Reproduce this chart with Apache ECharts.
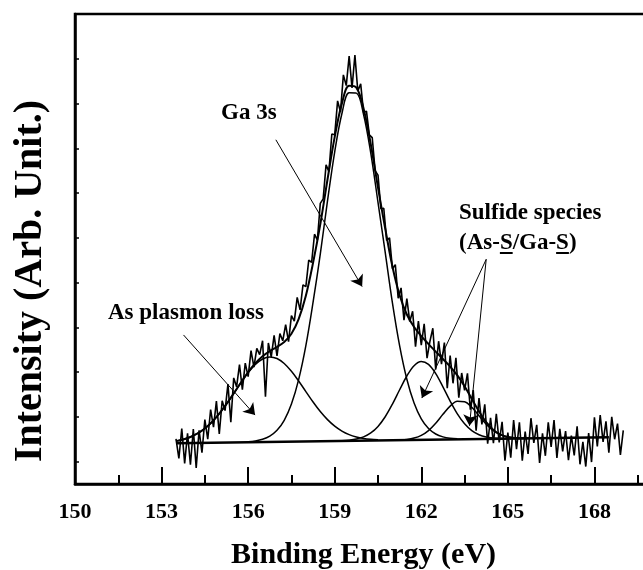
<!DOCTYPE html>
<html>
<head>
<meta charset="utf-8">
<script src="https://cdn.jsdelivr.net/npm/echarts@6/dist/echarts.min.js"></script>
<style>
  html, body { margin: 0; padding: 0; background: #fff; }
  #chart { width: 643px; height: 570px; }
</style>
</head>
<body>
<div id="chart"></div>
<script>
// Measured Ga 3s region spectrum (binding energy in eV, intensity in arbitrary units)
const rawEnergy = [
  153.5,153.6,153.7,153.8,153.9,154.0,154.1,154.2,154.3,154.4,
  154.5,154.6,154.7,154.8,154.9,155.0,155.1,155.2,155.3,155.4,
  155.5,155.6,155.7,155.8,155.9,156.0,156.1,156.2,156.3,156.4,
  156.5,156.6,156.7,156.8,156.9,157.0,157.1,157.2,157.3,157.4,
  157.5,157.6,157.7,157.8,157.9,158.0,158.1,158.2,158.3,158.4,
  158.5,158.6,158.7,158.8,158.9,159.0,159.1,159.2,159.3,159.4,
  159.5,159.6,159.7,159.8,159.9,160.0,160.1,160.2,160.3,160.4,
  160.5,160.6,160.7,160.8,160.9,161.0,161.1,161.2,161.3,161.4,
  161.5,161.6,161.7,161.8,161.9,162.0,162.1,162.2,162.3,162.4,
  162.5,162.6,162.7,162.8,162.9,163.0,163.1,163.2,163.3,163.4,
  163.5,163.6,163.7,163.8,163.9,164.0,164.1,164.2,164.3,164.4,
  164.5,164.6,164.7,164.8,164.9,165.0,165.1,165.2,165.3,165.4,
  165.5,165.6,165.7,165.8,165.9,166.0,166.1,166.2,166.3,166.4,
  166.5,166.6,166.7,166.8,166.9,167.0,167.1,167.2,167.3,167.4,
  167.5,167.6,167.7,167.8,167.9,168.0,168.1,168.2,168.3,168.4,
  168.5,168.6,168.7,168.8,168.9,169.0
];
const rawIntensity = [
  1.01,0.57,1.24,0.46,1.13,0.43,1.23,0.36,1.20,0.70,
  1.44,1.00,1.66,1.27,1.85,1.12,1.86,1.64,2.23,1.38,
  2.37,2.17,2.67,2.11,2.70,2.40,2.98,2.61,3.03,2.89,
  3.20,1.95,3.15,2.84,3.32,2.86,3.36,3.20,3.56,3.18,
  3.76,3.64,4.17,3.89,4.45,4.41,5.00,4.95,5.58,5.45,
  6.27,6.37,7.13,6.98,7.82,7.80,8.56,8.31,9.14,8.90,
  9.56,8.85,9.58,8.78,8.94,8.30,8.33,7.80,7.74,7.00,
  6.90,6.15,6.16,5.44,5.50,4.81,4.90,4.15,4.38,3.66,
  4.14,3.63,3.86,3.07,3.64,3.10,3.58,2.81,3.19,3.48,
  2.56,3.19,2.68,3.16,2.14,2.87,2.25,2.82,1.93,2.48,
  2.09,2.47,1.66,2.10,1.19,1.92,1.33,1.78,0.90,1.48,
  0.91,1.57,0.93,1.39,0.52,1.15,0.59,1.43,0.78,1.38,
  0.52,1.17,0.67,1.47,0.92,1.32,0.47,1.13,0.63,1.38,
  0.83,1.43,0.58,1.23,0.73,1.18,0.53,1.08,0.64,1.29,
  0.44,0.94,0.39,1.14,0.49,1.49,0.84,1.54,0.94,1.40,
  0.70,1.50,1.00,1.35,0.65,1.20
];

// Fitted envelope (sum of components on the linear background)
const envelopeEnergy = [
  153.5,153.75,154.0,154.25,154.5,154.75,155.0,155.25,155.5,155.75,
  156.0,156.25,156.5,156.75,157.0,157.25,157.5,157.75,158.0,158.25,
  158.5,158.75,159.0,159.25,159.5,159.75,160.0,160.25,160.5,160.75,
  161.0,161.25,161.5,161.75,162.0,162.25,162.5,162.75,163.0,163.25,
  163.5,163.75,164.0,164.25,164.5,164.75,165.0,165.25,165.5,165.75
];
const envelopeIntensity = [
  0.958,0.994,1.050,1.130,1.241,1.388,1.572,1.787,2.023,2.264,
  2.499,2.698,2.854,2.969,3.061,3.171,3.357,3.685,4.206,4.942,
  5.801,6.803,7.755,8.503,8.895,8.855,8.389,7.590,6.620,5.709,
  4.858,4.217,3.786,3.508,3.304,3.126,2.958,2.792,2.623,2.427,
  2.186,1.904,1.622,1.380,1.208,1.104,1.050,1.028,1.023,1.022
];

// As plasmon loss component
const plasmonEnergy = [
  153.5,153.75,154.0,154.25,154.5,154.75,155.0,155.25,155.5,155.75,
  156.0,156.25,156.5,156.75,157.0,157.25,157.5,157.75,158.0,158.25,
  158.5,158.75,159.0,159.25,159.5,159.75,160.0,160.25,160.5
];
const plasmonIntensity = [
  0.958,0.994,1.050,1.130,1.241,1.388,1.572,1.787,2.023,2.264,
  2.488,2.671,2.793,2.840,2.804,2.692,2.517,2.301,2.065,1.832,
  1.619,1.438,1.293,1.183,1.104,1.052,1.019,0.999,0.988
];

// Ga 3s component
const gaEnergy = [
  156.0,156.25,156.5,156.75,157.0,157.25,157.5,157.75,158.0,158.25,
  158.5,158.75,159.0,159.25,159.5,159.75,160.0,160.25,160.5,160.75,
  161.0,161.25,161.5,161.75,162.0,162.25,162.5,162.75,163.0,163.25
];
const gaIntensity = [
  0.944,0.962,0.998,1.069,1.199,1.423,1.786,2.333,3.092,4.063,
  5.137,6.323,7.422,8.276,8.739,8.732,8.255,7.392,6.291,5.174,
  4.046,3.086,2.340,1.808,1.455,1.239,1.117,1.053,1.022,1.009
];

// Sulfide components
const sulfideAEnergy = [
  159.25,159.5,159.75,160.0,160.25,160.5,160.75,161.0,161.25,161.5,
  161.75,162.0,162.25,162.5,162.75,163.0,163.25,163.5,163.75,164.0,
  164.25,164.5,164.75,165.0
];
const sulfideAIntensity = [
  0.968,0.980,1.005,1.053,1.141,1.287,1.503,1.785,2.106,2.413,
  2.643,2.736,2.671,2.466,2.171,1.853,1.566,1.344,1.192,1.100,
  1.050,1.028,1.019,1.016
];
const sulfideBEnergy = [
  161.0,161.25,161.5,161.75,162.0,162.25,162.5,162.75,163.0,163.25,
  163.5,163.75,164.0,164.25,164.5,164.75,165.0,165.25,165.5,165.75
];
const sulfideBIntensity = [
  0.979,0.985,0.997,1.026,1.086,1.194,1.357,1.556,1.740,1.848,
  1.838,1.715,1.527,1.337,1.190,1.097,1.048,1.028,1.023,1.022
];

// Linear background
const backgroundEnergy = [153.5, 168.5];
const backgroundIntensity = [0.91, 1.045];

// Axis ticks
const xTickLabels = [150, 153, 156, 159, 162, 165, 168];
const yTickValues = [0.5, 1.5, 2.5, 3.5, 4.5, 5.5, 6.5, 7.5, 8.5, 9.5, 10.5];

// Annotation arrows: [from energy, from intensity, to energy, to intensity]
const arrowGa = [156.96, 7.69, 159.95, 4.41];
const arrowPlasmon = [153.76, 3.33, 156.24, 1.54];
const arrowSulfideA = [164.25, 5.02, 162.02, 1.92];
const arrowSulfideB = [164.25, 5.02, 163.67, 1.30];

const serif = '"Liberation Serif", "Times New Roman", serif';
const pairs = (xs, ys) => xs.map((x, i) => [x, ys[i]]);

const chart = echarts.init(document.getElementById('chart'), null, { renderer: 'canvas' });

function fitLine(name, xs, ys, width) {
  return {
    name, type: 'line', data: pairs(xs, ys), smooth: 0.35,
    showSymbol: false, silent: true, z: 4,
    lineStyle: { color: '#000', width: width }
  };
}

function arrow(a) {
  return [
    { coord: [a[0], a[1]], symbol: 'none' },
    { coord: [a[2], a[3]], symbol: 'arrow', symbolSize: 11 }
  ];
}

// Text annotations
const annFont = 'bold 23px ' + serif;
const measure = (() => {
  const ctx = document.createElement('canvas').getContext('2d');
  ctx.font = annFont;
  return t => ctx.measureText(t).width;
})();
const sulfX = 459, sulfY2 = 243;
const ulY = sulfY2 + 10;
const u1x = sulfX + measure('(As-');
const u2x = sulfX + measure('(As-S/Ga-');
const sW = measure('S');

const option = {
  animation: false,
  backgroundColor: '#fff',
  grid: {
    left: 75, top: 14, width: 606, height: 470,
    outerBoundsMode: 'none', containLabel: false,
    show: true, borderColor: '#000', borderWidth: 2.5, backgroundColor: 'transparent'
  },
  xAxis: {
    type: 'value', min: 150, max: 171, interval: 3,
    axisLine: { show: true, onZero: false, lineStyle: { color: '#000', width: 2.5 } },
    axisTick: { show: true, inside: true, length: 17, lineStyle: { color: '#000', width: 2 } },
    minorTick: { show: true, splitNumber: 2, length: 9, lineStyle: { color: '#000', width: 2 } },
    splitLine: { show: false },
    minorSplitLine: { show: false },
    axisLabel: {
      margin: 17, color: '#000', fontFamily: serif, fontWeight: 'bold', fontSize: 22,
      formatter: v => (xTickLabels.indexOf(v) >= 0 ? String(v) : '')
    }
  },
  yAxis: {
    type: 'value', min: 0, max: 10.5,
    axisLine: { show: true, onZero: false, lineStyle: { color: '#000', width: 2.5 } },
    axisTick: { show: true, inside: true, length: 4, customValues: yTickValues, lineStyle: { color: '#000', width: 1.5 } },
    axisLabel: { show: false },
    splitLine: { show: false }
  },
  series: [
    {
      name: 'Measured', type: 'line', data: pairs(rawEnergy, rawIntensity),
      showSymbol: false, silent: true, z: 3,
      lineStyle: { color: '#000', width: 1.6 }
    },
    fitLine('Envelope', envelopeEnergy, envelopeIntensity, 2),
    fitLine('As plasmon loss', plasmonEnergy, plasmonIntensity, 1.5),
    fitLine('Ga 3s', gaEnergy, gaIntensity, 1.5),
    fitLine('Sulfide A', sulfideAEnergy, sulfideAIntensity, 1.5),
    fitLine('Sulfide B', sulfideBEnergy, sulfideBIntensity, 1.5),
    {
      name: 'Background', type: 'line', data: pairs(backgroundEnergy, backgroundIntensity),
      showSymbol: false, silent: true, z: 5,
      lineStyle: { color: '#000', width: 2.5 },
      markLine: {
        silent: true, animation: false,
        symbol: ['none', 'arrow'], symbolSize: 11,
        lineStyle: { color: '#000', width: 1, type: 'solid' },
        label: { show: false },
        emphasis: { disabled: true },
        data: [arrow(arrowGa), arrow(arrowPlasmon), arrow(arrowSulfideA), arrow(arrowSulfideB)]
      }
    }
  ]
};

chart.setOption(option);

// Axis titles and annotation texts, placed after layout
const titleX = chart.convertToPixel({ xAxisIndex: 0 }, 160);
chart.setOption({
  graphic: [
    { type: 'text', x: titleX, y: 555, style: { text: 'Binding Energy (eV)', font: 'bold 30px ' + serif, fill: '#000', align: 'center', verticalAlign: 'middle' } },
    { type: 'text', x: 31, y: 281, rotation: Math.PI / 2, style: { text: 'Intensity (Arb. Unit.)', font: 'bold 40px ' + serif, fill: '#000', align: 'center', verticalAlign: 'middle' } },
    { type: 'text', x: 221, y: 113, style: { text: 'Ga 3s', font: annFont, fill: '#000', verticalAlign: 'middle', align: 'left' } },
    { type: 'text', x: 108, y: 313, style: { text: 'As plasmon loss', font: annFont, fill: '#000', verticalAlign: 'middle', align: 'left' } },
    { type: 'text', x: sulfX, y: 213, style: { text: 'Sulfide species', font: annFont, fill: '#000', verticalAlign: 'middle', align: 'left' } },
    { type: 'text', x: sulfX, y: sulfY2, style: { text: '(As-S/Ga-S)', font: annFont, fill: '#000', verticalAlign: 'middle', align: 'left' } },
    { type: 'line', shape: { x1: u1x, y1: ulY, x2: u1x + sW, y2: ulY }, style: { stroke: '#000', lineWidth: 2 } },
    { type: 'line', shape: { x1: u2x, y1: ulY, x2: u2x + sW, y2: ulY }, style: { stroke: '#000', lineWidth: 2 } }
  ]
});
</script>
</body>
</html>
